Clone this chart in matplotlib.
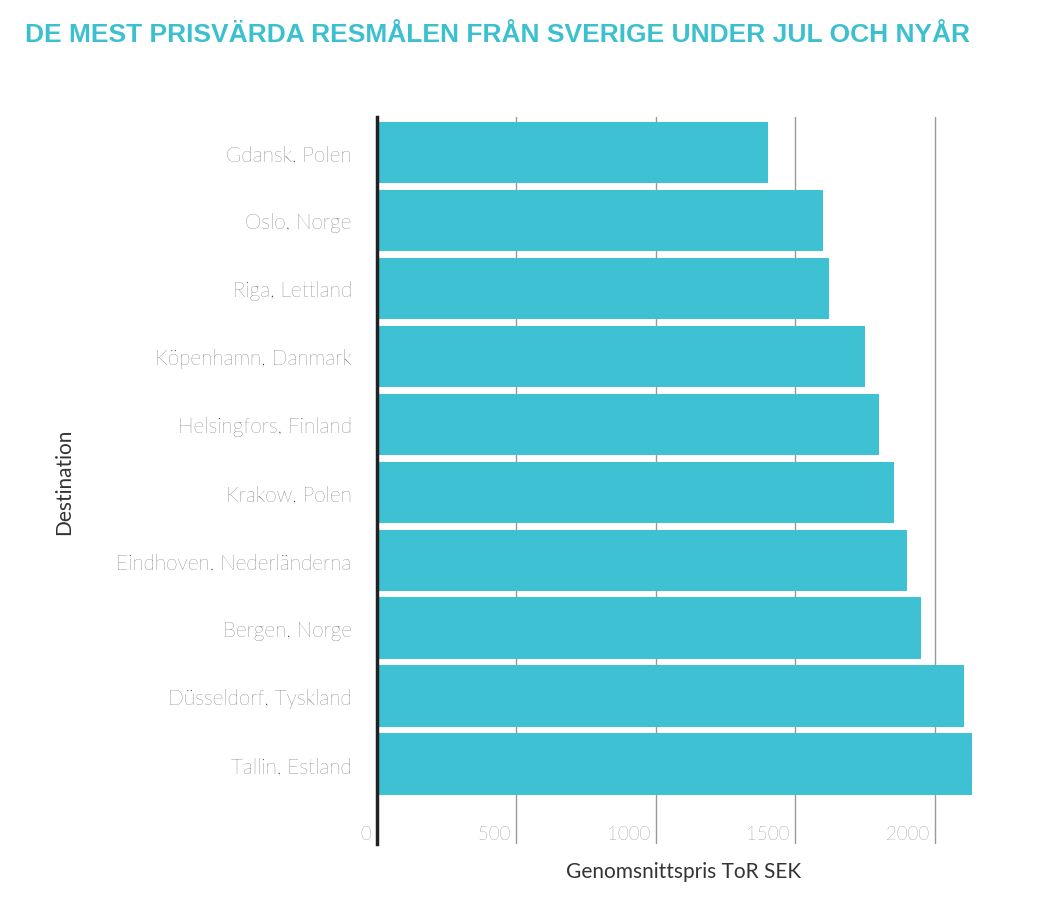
import matplotlib.pyplot as plt

destinations = ["Gdansk, Polen", "Oslo, Norge", "Riga, Lettland", "Köpenhamn, Danmark",
                "Helsingfors, Finland", "Krakow, Polen", "Eindhoven, Nederländerna",
                "Bergen, Norge", "Düsseldorf, Tyskland", "Tallin, Estland"]
prices = [1404, 1601, 1623, 1752, 1802, 1853, 1903, 1953, 2104, 2133]
ticks = [0, 500, 1000, 1500, 2000]
tick_labels = ["0 ", "500 ", "1000 ", "1500 ", "2000 "]

fig = plt.figure(figsize=(10.58, 9.03), dpi=100)
ax = fig.add_axes([0.356, 0.064, 0.58, 0.805])

ax.barh(range(len(prices)), prices, height=0.9, color="#3ec1d3", zorder=2)
ax.set_ylim(10.18, -0.515)
ax.set_xlim(0, 2200)

ax.set_xticks(ticks)
ax.set_xticklabels(tick_labels, ha="right", fontfamily="Lato", fontweight="light",
                   fontsize=13.5, color="#444")
ax.tick_params(axis="x", length=0, pad=-14)
ax.set_yticks(range(len(destinations)))
ax.set_yticklabels(destinations, fontfamily="Lato", fontweight="light", fontsize=15, color="#333")
ax.tick_params(axis="y", length=0, pad=18)
ax.grid(axis="x", color="#999", linewidth=1, zorder=1)

for s in ["top", "right", "bottom"]:
    ax.spines[s].set_visible(False)
ax.spines["left"].set_linewidth(2.5)
ax.spines["left"].set_color("#222")

ax.set_xlabel("Genomsnittspris ToR SEK", fontfamily="Lato", fontsize=15, color="#333", labelpad=12)
ax.set_ylabel("Destination", fontfamily="Lato", fontsize=15, color="#333", labelpad=30)

fig.text(0.024, 0.961, "DE MEST PRISVÄRDA RESMÅLEN FRÅN SVERIGE UNDER JUL OCH NYÅR",
         fontfamily="Liberation Sans", fontweight="bold", fontsize=19, color="#3cc0d0", va="center")

fig.savefig("out.png")
